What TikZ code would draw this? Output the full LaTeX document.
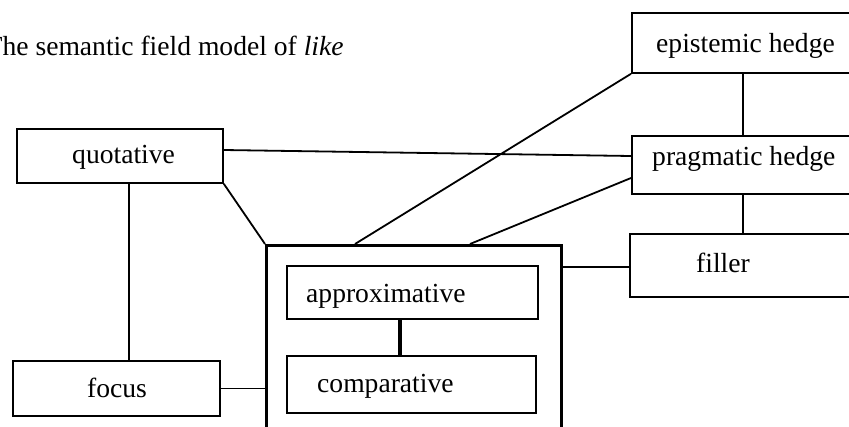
\documentclass[tikz,border=0pt]{standalone}
\usepackage{fontspec}
\setmainfont{Liberation Serif}
\begin{document}
\begin{tikzpicture}[x=1pt,y=-1pt,
  box/.style={draw, line width=1.8pt, rectangle, inner sep=0pt, anchor=north west},
  lbl/.style={inner sep=0pt, anchor=base west, font=\fontsize{27.6}{30}\selectfont},
  conn/.style={line width=1.8pt},
  thickconn/.style={line width=4pt}]
\useasboundingbox (0,0) rectangle (849,426);
\clip (0,0) rectangle (849,426);
% title
\node[lbl] (title) at (-14.5,55) {The semantic field model of \textit{like}};
% boxes
\node[box, minimum width=240pt, minimum height=60pt] (epi) at (631,12) {};
\node[box, minimum width=240pt, minimum height=58pt] (prag) at (631,135) {};
\node[box, minimum width=242pt, minimum height=63pt] (fill) at (629,233) {};
\node[box, minimum width=206pt, minimum height=54pt] (quot) at (16,128) {};
\node[box, minimum width=207pt, minimum height=55pt] (focus) at (12,360) {};
\node[box, line width=3pt, minimum width=295pt, minimum height=220pt] (big) at (265,244) {};
\node[box, minimum width=251pt, minimum height=53pt] (approx) at (286,265) {};
\node[box, minimum width=249pt, minimum height=57pt] (comp) at (286,355) {};
% labels
\node[lbl] (epi-t) at (656,52) {epistemic hedge};
\node[lbl] (prag-t) at (652,165) {pragmatic hedge};
\node[lbl] (fill-t) at (696,272) {filler};
\node[lbl] (quot-t) at (72,163) {quotative};
\node[lbl] (focus-t) at (87,397) {focus};
\node[lbl] (approx-t) at (306,302) {approximative};
\node[lbl] (comp-t) at (317,392) {comparative};
% connectors
\draw[conn] (quot.east |- 0,150) -- (prag.west |- 0,156);
\draw[conn] (quot.south east) -- (big.north west);
\draw[conn] (quot.south -| 129,0) -- (focus.north -| 129,0);
\draw[conn] (focus.east) -- (big.west |- focus.east);
\draw[conn] (epi.south west) -- (big.north west -| 355,0);
\draw[conn] (prag.west |- 0,178) -- (big.north west -| 470,0);
\draw[conn] (big.east |- 0,267) -- (fill.west |- 0,267);
\draw[line width=2.6pt] (epi.south -| 743,0) -- (prag.north -| 743,0);
\draw[conn] (prag.south -| 743,0) -- (fill.north -| 743,0);
\draw[thickconn] (approx.south -| 400,0) -- (comp.north -| 400,0);
\end{tikzpicture}
\end{document}
